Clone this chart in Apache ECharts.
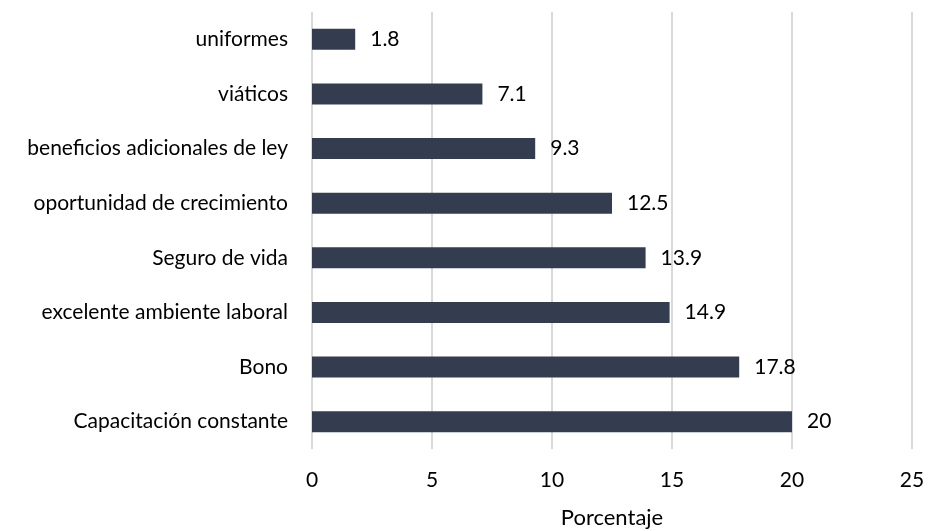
<!DOCTYPE html>
<html>
<head>
<meta charset="utf-8">
<script src="https://cdn.jsdelivr.net/npm/echarts@6/dist/echarts.min.js"></script>
<style>
  html, body { margin: 0; padding: 0; background: #fff; }
  #chart { width: 928px; height: 531px; }
</style>
</head>
<body>
<div id="chart"></div>
<script>
// categories listed bottom to top, as the category axis draws them
const categories = [
  'Capacitación constante',
  'Bono',
  'excelente ambiente laboral',
  'Seguro de vida',
  'oportunidad de crecimiento',
  'beneficios adicionales de ley',
  'viáticos',
  'uniformes'
];
const porcentajes = [20, 17.8, 14.9, 13.9, 12.5, 9.3, 7.1, 1.8];
const xTicks = [0, 5, 10, 15, 20, 25];

const chart = echarts.init(document.getElementById('chart'));

const option = {
  animation: false,
  textStyle: { fontFamily: 'Lato' },
  grid: {
    left: 312,
    right: 16,
    top: 12,
    bottom: 82,
    outerBoundsMode: 'none'
  },
  xAxis: {
    type: 'value',
    min: xTicks[0],
    max: xTicks[xTicks.length - 1],
    interval: 5,
    name: 'Porcentaje',
    nameLocation: 'middle',
    nameGap: 58,
    nameTextStyle: { fontSize: 22, color: '#000' },
    axisLine: { show: false },
    axisTick: { show: false },
    axisLabel: { fontSize: 21, color: '#000', margin: 21 },
    splitLine: { lineStyle: { color: '#d9d9d9', width: 2 } }
  },
  yAxis: {
    type: 'category',
    data: categories,
    axisLine: { show: false },
    axisTick: { show: false },
    axisLabel: { fontSize: 21, color: '#000', margin: 24 }
  },
  series: [
    {
      type: 'bar',
      data: porcentajes,
      barWidth: 21,
      itemStyle: { color: '#333d4f' },
      label: {
        show: true,
        position: 'right',
        distance: 15,
        fontSize: 21,
        color: '#000'
      }
    }
  ]
};

chart.setOption(option);
</script>
</body>
</html>
